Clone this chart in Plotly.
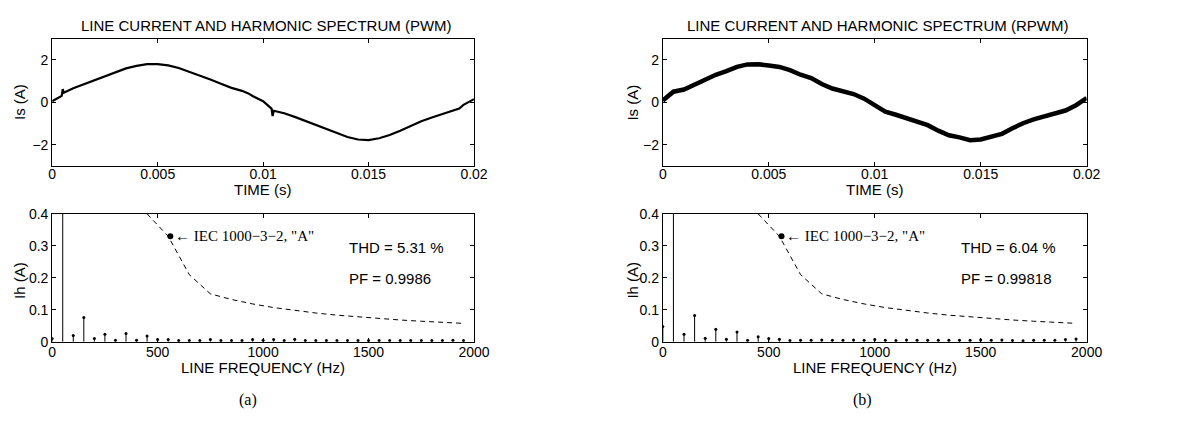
import plotly.graph_objects as go

W, H = 1199, 421

# ---------------- data ----------------
t_pwm = [0, 0.0003, 0.00045, 0.0005, 0.00055, 0.001, 0.0015, 0.002, 0.0025, 0.003, 0.0035,
         0.004, 0.0045, 0.005, 0.0055, 0.006, 0.0065, 0.007, 0.0075, 0.008, 0.0085, 0.009,
         0.0093, 0.0095, 0.01, 0.0104, 0.01045, 0.0105, 0.011, 0.0115, 0.012, 0.0125, 0.013,
         0.0135, 0.014, 0.0145, 0.015, 0.0155, 0.016, 0.0165, 0.017, 0.0175, 0.018, 0.0185,
         0.019, 0.0193, 0.0195, 0.02]
is_pwm = [0.05, 0.2, 0.3, 0.62, 0.45, 0.66, 0.85, 1.05, 1.25, 1.44, 1.6,
          1.72, 1.8, 1.8, 1.74, 1.62, 1.45, 1.27, 1.08, 0.88, 0.68, 0.54,
          0.42, 0.3, 0.05, -0.3, -0.65, -0.4, -0.52, -0.69, -0.88, -1.08, -1.29,
          -1.48, -1.64, -1.76, -1.79, -1.7, -1.55, -1.35, -1.12, -0.9, -0.72, -0.55,
          -0.38, -0.3, -0.12, 0.15]

t_rpwm = [0, 0.0005, 0.001, 0.0015, 0.002, 0.0025, 0.003, 0.0035, 0.004, 0.0045, 0.005,
          0.0055, 0.006, 0.0065, 0.007, 0.0075, 0.008, 0.0085, 0.009, 0.0095, 0.01,
          0.0105, 0.011, 0.0115, 0.012, 0.0125, 0.013, 0.0135, 0.014, 0.0145, 0.015,
          0.0155, 0.016, 0.0165, 0.017, 0.0175, 0.018, 0.0185, 0.019, 0.0195, 0.02]
is_rpwm = [0.08, 0.5, 0.6, 0.84, 1.07, 1.3, 1.47, 1.67, 1.79, 1.8, 1.74,
           1.67, 1.52, 1.3, 1.14, 0.86, 0.65, 0.54, 0.39, 0.17, -0.12,
           -0.44, -0.59, -0.74, -0.89, -1.08, -1.34, -1.56, -1.66, -1.79, -1.76,
           -1.64, -1.49, -1.23, -0.99, -0.81, -0.66, -0.51, -0.39, -0.14, 0.2]

freq = [0, 50, 100, 150, 200, 250, 300, 350, 400, 450, 500, 550, 600, 650, 700, 750,
        800, 850, 900, 950, 1000, 1050, 1100, 1150, 1200, 1250, 1300, 1350, 1400, 1450,
        1500, 1550, 1600, 1650, 1700, 1750, 1800, 1850, 1900, 1950]
ih_pwm = [0.010, 1.27, 0.020, 0.076, 0.010, 0.024, 0.005, 0.026, 0.005, 0.018, 0.007, 0.007,
          0.004, 0.004, 0.004, 0.007, 0.004, 0.004, 0.004, 0.007, 0.005, 0.007, 0.004, 0.008,
          0.004, 0.004, 0.004, 0.004, 0.004, 0.004, 0.004, 0.004, 0.004, 0.004, 0.004, 0.004,
          0.004, 0.004, 0.005, 0.004]
ih_rpwm = [0.048, 1.28, 0.024, 0.082, 0.011, 0.039, 0.008, 0.031, 0.005, 0.016, 0.010, 0.008,
           0.004, 0.005, 0.005, 0.006, 0.005, 0.005, 0.006, 0.005, 0.007, 0.005, 0.004, 0.006,
           0.005, 0.005, 0.005, 0.005, 0.005, 0.005, 0.006, 0.005, 0.006, 0.004, 0.003, 0.005,
           0.005, 0.005, 0.007, 0.009]

iec_freq = [450, 550, 650, 750, 850, 950, 1050, 1150, 1250, 1350, 1450, 1550, 1650, 1750,
            1850, 1950]
iec_limit = [0.40, 0.33, 0.21, 0.15, 0.1324, 0.1184, 0.1071, 0.0978, 0.090, 0.0833, 0.0776,
             0.0726, 0.0682, 0.0643, 0.0608, 0.0577]
iec_mark_f = 560
iec_mark_v = 0.33

titles = ["LINE CURRENT AND HARMONIC SPECTRUM (PWM)", "LINE CURRENT AND HARMONIC SPECTRUM (RPWM)"]
thd_text = ["THD = 5.31 %", "THD = 6.04 %"]
pf_text = ["PF = 0.9986", "PF = 0.99818"]
sub_labels = ["(a)", "(b)"]

time_ticks = [0, 0.005, 0.01, 0.015, 0.02]
time_ticklabels = ["0", "0.005", "0.01", "0.015", "0.02"]
is_ticks = [-2, 0, 2]
is_ticklabels = ["\u22122", "0", "2"]
f_ticks = [0, 500, 1000, 1500, 2000]
ih_ticks = [0, 0.1, 0.2, 0.3, 0.4]
ih_ticklabels = ["0", "0.1", "0.2", "0.3", "0.4"]

# ---------------- layout geometry (pixels) ----------------
xl = [(49, 478), (670, 1101)]
y_top = (32, 164)
y_bot = (214, 347)


def px_x(p):
    return p / W


def px_y(p):
    return 1 - p / H


SANS = "Liberation Sans, Arial, Helvetica, sans-serif"
SERIF = "Liberation Serif, Times New Roman, serif"
FS = 15
TFS = 14

fig = go.Figure()


def stems(f, v):
    xs, ys = [], []
    for a, b in zip(f, v):
        xs += [a, a, None]
        ys += [0, b, None]
    return xs, ys


series_t = [(t_pwm, is_pwm, 2.2), (t_rpwm, is_rpwm, 4.5)]
series_h = [ih_pwm, ih_rpwm]

axis_common = dict(showline=True, linecolor="black", linewidth=1, mirror="ticks",
                   ticks="inside", ticklen=4, tickcolor="black", showgrid=False,
                   zeroline=False, tickfont=dict(family=SANS, size=TFS, color="black"))

annotations = []


def ann(text, x, y, font, xref="paper", yref="paper", xanchor="center", yanchor="middle",
        angle=0):
    annotations.append(dict(text=text, x=x, y=y, xref=xref, yref=yref, xanchor=xanchor,
                            yanchor=yanchor, showarrow=False, textangle=angle, font=font))


for i in range(2):
    xa_t = "x%d" % (2 * i + 1)
    ya_t = "y%d" % (2 * i + 1)
    xa_b = "x%d" % (2 * i + 2)
    ya_b = "y%d" % (2 * i + 2)
    tt, vv, lw = series_t[i]
    fig.add_trace(go.Scatter(x=tt, y=vv, mode="lines", xaxis=xa_t, yaxis=ya_t,
                             line=dict(color="black", width=lw), hoverinfo="skip"))
    sx, sy = stems(freq, series_h[i])
    fig.add_trace(go.Scatter(x=sx, y=sy, mode="lines", xaxis=xa_b, yaxis=ya_b,
                             line=dict(color="black", width=1), hoverinfo="skip"))
    fig.add_trace(go.Scatter(x=freq, y=series_h[i], mode="markers", xaxis=xa_b, yaxis=ya_b,
                             marker=dict(color="black", size=3), hoverinfo="skip",
                             cliponaxis=True))
    fig.add_trace(go.Scatter(x=iec_freq, y=iec_limit, mode="lines", xaxis=xa_b, yaxis=ya_b,
                             line=dict(color="black", width=1, dash="5px,4px"), hoverinfo="skip"))
    fig.add_trace(go.Scatter(x=[iec_mark_f], y=[iec_mark_v], mode="markers", xaxis=xa_b, yaxis=ya_b,
                             marker=dict(color="black", size=6), hoverinfo="skip"))

    dom_x = [px_x(xl[i][0]), px_x(xl[i][1])]
    fig.layout["xaxis" + ("" if 2 * i + 1 == 1 else str(2 * i + 1))] = dict(
        axis_common, domain=dom_x, range=[0, 0.02], tickvals=time_ticks,
        ticktext=time_ticklabels, anchor=ya_t, ticklabelstandoff=-5)
    fig.layout["yaxis" + ("" if 2 * i + 1 == 1 else str(2 * i + 1))] = dict(
        axis_common, domain=[px_y(y_top[1]), px_y(y_top[0])], range=[-3, 3],
        tickvals=is_ticks, ticktext=is_ticklabels, anchor=xa_t, ticklabelstandoff=0)
    fig.layout["xaxis" + str(2 * i + 2)] = dict(
        axis_common, domain=dom_x, range=[0, 2000], tickvals=f_ticks, anchor=ya_b,
        ticklabelstandoff=-3)
    fig.layout["yaxis" + str(2 * i + 2)] = dict(
        axis_common, domain=[px_y(y_bot[1]), px_y(y_bot[0])], range=[0, 0.4],
        tickvals=ih_ticks, ticktext=ih_ticklabels, anchor=xa_b, ticklabelstandoff=0)

    cx = (xl[i][0] + xl[i][1]) / 2
    sans = dict(family=SANS, size=FS, color="black")
    ann(titles[i], px_x(cx + 3), px_y(18), sans)
    ann("TIME (s)", px_x(cx), px_y(189), sans)
    ann("LINE FREQUENCY (Hz)", px_x(cx), px_y(374), sans)
    ylx = 16 if i == 0 else 639
    ann("Is (A)", px_x(ylx), px_y(98), sans, angle=-90)
    ann("Ih (A)", px_x(ylx), px_y(283), sans, angle=-90)
    ann(sub_labels[i], px_x(248 if i == 0 else 873), px_y(408),
        dict(family=SERIF, size=16, color="black"))
    ann("\u2190 IEC 1000\u22123\u22122, \"A\"", iec_mark_f + 12, iec_mark_v,
        dict(family=SERIF, size=15, color="black"), xref=xa_b, yref=ya_b, xanchor="left")
    ann(thd_text[i], 1400, 0.295, sans, xref=xa_b, yref=ya_b, xanchor="left")
    ann(pf_text[i], 1400, 0.198, sans, xref=xa_b, yref=ya_b, xanchor="left")

fig.update_layout(width=W, height=H, margin=dict(l=0, r=0, t=0, b=0),
                  paper_bgcolor="white", plot_bgcolor="white", showlegend=False,
                  annotations=annotations)

fig.write_html("out.html")
